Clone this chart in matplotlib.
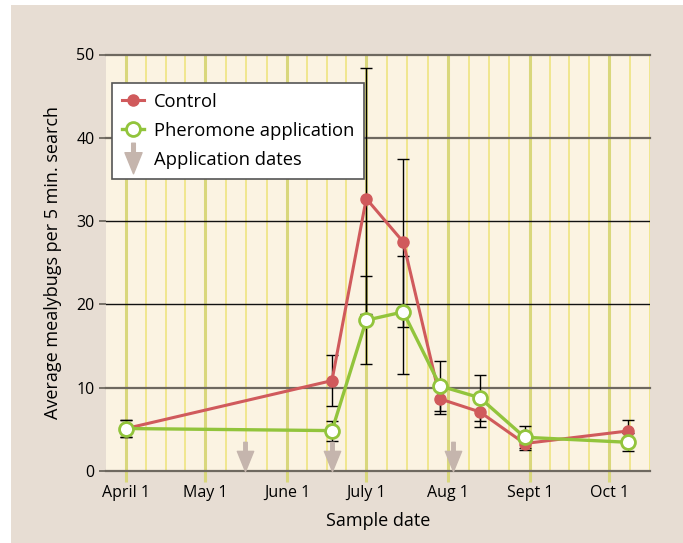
import matplotlib
matplotlib.use("Agg")
import matplotlib.pyplot as plt
from matplotlib.path import Path
from matplotlib.lines import Line2D
from matplotlib.patches import Rectangle

plt.rcParams['font.family'] = ['Open Sans', 'DejaVu Sans']

# days counted from April 1
month_starts = [0, 30, 61, 91, 122, 153, 183]
month_labels = ["April 1", "May 1", "June 1", "July 1", "Aug 1", "Sept 1", "Oct 1"]
month_lengths = [30, 31, 30, 31, 31, 30, 31]

sample_days = [0, 78, 91, 105, 119, 134, 151, 190]
control = [5.1, 10.85, 32.7, 27.5, 8.65, 7.1, 3.3, 4.8]
control_err_lo = [1.0, 3.1, 13.9, 10.2, 1.8, 1.8, 0.8, 1.3]
control_err_hi = [1.0, 3.1, 15.7, 9.9, 1.8, 1.8, 0.8, 1.3]
pheromone = [5.1, 4.85, 18.1, 19.1, 10.2, 8.8, 4.05, 3.45]
pheromone_err_lo = [1.0, 1.2, 5.3, 7.4, 3.0, 2.75, 1.3, 1.1]
pheromone_err_hi = [1.0, 1.2, 5.3, 6.7, 3.0, 2.75, 1.3, 1.1]

application_days = [45, 78, 124]

red = "#d05a5c"
green = "#92c43c"
arrow_col = "#c5b5ad"

# down arrow, tip at origin
arrow_verts = [(0, 0), (0.28, 0.69), (0.06, 0.69), (0.06, 1), (-0.06, 1),
               (-0.06, 0.69), (-0.28, 0.69), (0, 0)]
arrow_tip = Path(arrow_verts, closed=True)
arrow_mid = Path([(x, y - 0.5) for x, y in arrow_verts], closed=True)

fig = plt.figure(figsize=(6.83, 5.43), dpi=100)
fig.patch.set_facecolor("white")
fig.patches.append(Rectangle((11 / 683, 0), 1, 1 - 5 / 543, transform=fig.transFigure,
                             facecolor="#e7ddd3", edgecolor="none", zorder=-10))

ax = fig.add_axes([105.5 / 683, 1 - 471 / 543, (650 - 105.5) / 683, (471 - 54.5) / 543])
ax.set_facecolor("#fbf3e2")

# vertical yellow lines: month starts and quarter months
for s, n in zip(month_starts, month_lengths):
    ax.axvline(s, color="#d9d77c", lw=2.2, zorder=1)
    for q in (0.25, 0.5, 0.75):
        ax.axvline(s + n * q, color="#f0e68e", lw=1.4, zorder=1)

for v in [0, 10, 40, 50]:
    ax.axhline(v, color="#6e685f", lw=1.6, zorder=2, clip_on=False)
for v in [20, 30]:
    ax.axhline(v, color="#111111", lw=1.0, zorder=2)

ax.errorbar(sample_days, control, yerr=[control_err_lo, control_err_hi], fmt="none",
            ecolor="black", elinewidth=1, capsize=4, capthick=1, zorder=3)
ax.errorbar(sample_days, pheromone, yerr=[pheromone_err_lo, pheromone_err_hi], fmt="none",
            ecolor="black", elinewidth=1, capsize=4, capthick=1, zorder=3)

ax.plot(sample_days, control, color=red, lw=2.2, marker="o", ms=8,
        mfc=red, mec=red, zorder=4)
ax.plot(sample_days, pheromone, color=green, lw=2.4, marker="o", ms=10,
        mfc="white", mec=green, mew=2, zorder=5)

ax.plot(application_days, [0] * len(application_days), linestyle="none",
        marker=arrow_tip, ms=42, color=arrow_col, zorder=6, clip_on=False)

ax.set_xlim(-7.8, 198.5)
ax.set_ylim(0, 50)
for sp in ax.spines.values():
    sp.set_visible(False)

ax.set_xticks(month_starts)
ax.set_xticklabels(month_labels, fontsize=11.5)
ax.tick_params(axis="x", length=8, width=2.2, color="#d9d77c", pad=2)
ax.set_yticks([0, 10, 20, 30, 40, 50])
ax.tick_params(axis="y", length=5, width=1.3, color="#6e685f", labelsize=11.5, pad=3)

ax.set_xlabel("Sample date", fontsize=13, labelpad=8)
ax.set_ylabel("Average mealybugs per 5 min. search", fontsize=13, labelpad=10)

handles = [
    Line2D([], [], color=red, lw=2.2, marker="o", ms=8, mfc=red, mec=red),
    Line2D([], [], color=green, lw=2.4, marker="o", ms=10, mfc="white", mec=green, mew=2),
    Line2D([], [], linestyle="none", marker=arrow_mid, ms=22, color=arrow_col),
]
leg = ax.legend(handles, ["Control", "Pheromone application", "Application dates"],
                loc="upper left", bbox_to_anchor=(6.2 / 544.5, 1 - 28 / 416.5),
                fontsize=13.2, frameon=True, fancybox=False, framealpha=1,
                edgecolor="#555555", handlelength=1.2, handletextpad=0.55,
                labelspacing=0.6, borderpad=0.55, borderaxespad=0)
leg.get_frame().set_linewidth(1.2)
leg.set_zorder(10)

fig.savefig("out.png", dpi=100, facecolor=fig.get_facecolor())
